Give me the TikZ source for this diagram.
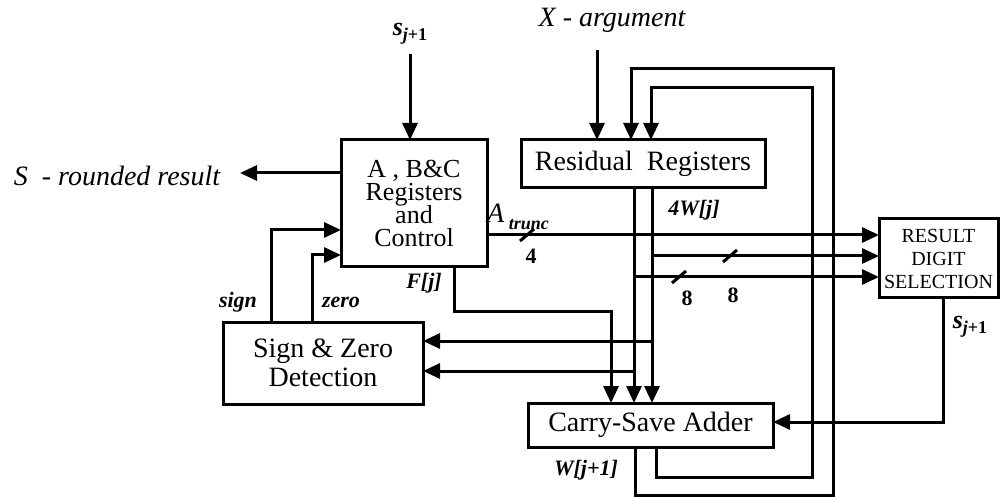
\documentclass[tikz,border=0pt]{standalone}
\usepackage{fontspec}
\setmainfont{Liberation Serif}
\usetikzlibrary{arrows.meta}
\newcommand\sjone{\textit{s}\raisebox{-0.4ex}{\fontsize{9}{9}\selectfont\textit{j}+1}}
\newcommand\tightlines{\lineskiplimit=-20pt\relax}
\begin{document}
\begin{tikzpicture}[x=0.5pt,y=-0.5pt,
  line width=1.5pt,
  arr/.style={-{Triangle[length=8.5pt,width=7.5pt]}},
  blk/.style={draw,inner sep=0pt,outer sep=0pt,align=center,line width=1.5pt},
  lbl/.style={font=\fontsize{11}{12}\selectfont\bfseries\itshape,inner sep=0pt},
  big/.style={font=\fontsize{14}{16}\selectfont\itshape,inner sep=0pt},
  num/.style={font=\fontsize{11}{12}\selectfont\bfseries,inner sep=0pt},
  bus/.style={line width=1.5pt}]
\useasboundingbox (0,0) rectangle (1001,497);

% blocks
\node[blk,minimum width=73pt,minimum height=63.5pt,font={\fontsize{13}{11.4}\selectfont\tightlines}] (abc) at (414,203.5) {A , B\&C\\Registers\\and\\Control};
\node[blk,minimum width=122pt,minimum height=24pt,font=\fontsize{14}{16}\selectfont] (rr) at (643,164) {Residual\ \ Registers};
\node[blk,minimum width=100pt,minimum height=41pt,font=\fontsize{14}{14.5}\selectfont] (sz) at (323,363) {Sign \& Zero\\Detection};
\node[blk,minimum width=122.5pt,minimum height=22pt,font=\fontsize{14}{16}\selectfont] (csa) at (650.5,425) {Carry-Save Adder};
\node[blk,minimum width=59.5pt,minimum height=39.5pt,font=\fontsize{10}{11.5}\selectfont] (rds) at (938.5,258.5) {RESULT\\DIGIT\\SELECTION};

% labels
\node[lbl,font=\fontsize{13}{14}\selectfont\bfseries] (stop) at (410,34) {\sjone};
\node[big] (xlab) at (612,20) {X - argument};
\node[big] (sout) at (117,176) {S \ - rounded result};
\node[lbl] (sgnl) at (238,302) {sign};
\node[lbl] (zrl) at (341,302) {zero};
\node[lbl] (fjl) at (424,283) {F[j]};
\node[lbl] (wl) at (694,210) {4W[j]};
\node[lbl] (w1l) at (586,470) {W[j+1]};
\node[lbl,font=\fontsize{13}{14}\selectfont\bfseries] (sr) at (970,327) {\sjone};
\node[inner sep=0pt] (atl) at (518,217) {\fontsize{14}{16}\selectfont\textit{A}\,\raisebox{-0.5ex}{\fontsize{9}{10}\selectfont\bfseries\itshape trunc}};
\node[num] (n4) at (531,256) {4};
\node[num] (n8a) at (687,298) {8};
\node[num] (n8b) at (733,295) {8};

% coordinates
\coordinate (sgn) at (271,230);
\coordinate (zr) at (312,255);
\coordinate (soTip) at (240,173);
\coordinate (xin) at (597,50);
\coordinate (at) at (487,235);
\coordinate (fj) at (454,311);
\coordinate (fjx) at (611,311);
\coordinate (b1) at (634,277);
\coordinate (b2) at (652,256);
\coordinate (z1) at (652,341);
\coordinate (z2) at (634,371);
\coordinate (srx) at (943,422);
\coordinate (lo1) at (635,495);
\coordinate (lo2) at (833,69);
\coordinate (lo3) at (631,69);
\coordinate (li1) at (656,477);
\coordinate (li2) at (812,88);
\coordinate (li3) at (651,88);

% connectors
\draw[arr] ([yshift=-4pt]stop.south) -- (abc.north -| stop);
\draw[arr] (abc.west |- soTip) -- (soTip);
\draw[arr] (sz.north -| sgn) |- (abc.west |- sgn);
\draw[arr] (sz.north -| zr) |- (abc.west |- zr);
\draw[arr] (xin) -- (rr.north -| xin);
\draw[arr] (abc.east |- at) -- (rds.west |- at);
\draw[arr] (abc.south -| fj) -- (fj) -- (fjx) -- (csa.north -| fjx);
\draw[arr] (rr.south -| b1) -- (csa.north -| b1);
\draw[arr] (rr.south -| b2) -- (csa.north -| b2);
\draw[arr] (b2) -- (rds.west |- b2);
\draw[arr] (b1) -- (rds.west |- b1);
\draw[arr] (z1) -- (sz.east |- z1);
\draw[arr] (z2) -- (sz.east |- z2);
\draw[arr] (rds.south -| srx) |- (csa.east |- srx);
\draw[arr] (csa.south -| lo1) -- (lo1) -| (lo2) -- (lo3) -- (rr.north -| lo3);
\draw[arr] (csa.south -| li1) -- (li1) -| (li2) -- (li3) -- (rr.north -| li3);

% bus-width slashes
\draw[bus] (520,241) -- (534,229);
\draw[bus] (672,283) -- (686,271);
\draw[bus] (723,262) -- (737,250);
\end{tikzpicture}
\end{document}
